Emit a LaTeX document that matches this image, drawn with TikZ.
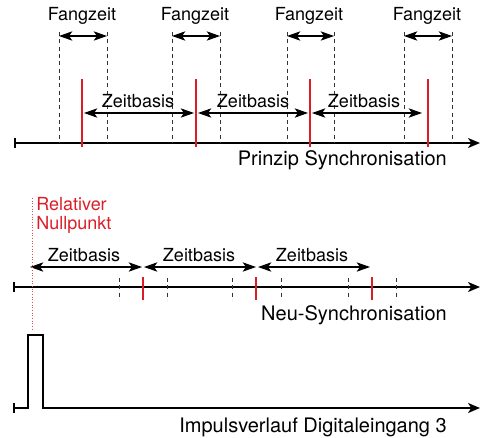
\documentclass[tikz,border=0pt]{standalone}
\usepackage{fontspec}
\setmainfont{TeX Gyre Heros}
\usetikzlibrary{arrows.meta,calc}
\definecolor{myred}{RGB}{218,30,40}
\tikzset{
  axis/.style={line width=1.1pt,-{Stealth[length=9pt,width=7.5pt,inset=2.5pt]}},
  dim/.style={line width=0.8pt,{Stealth[length=10pt,width=7pt,inset=2.5pt]}-{Stealth[length=10pt,width=7pt,inset=2.5pt]}},
  guide/.style={line width=0.7pt,dash pattern=on 3pt off 2.5pt,black!80},
  redmark/.style={line width=0.9pt,myred},
  small/.style={font=\fontsize{13.5}{16}\selectfont,inner sep=0pt},
  big/.style={font=\fontsize{15}{18}\selectfont,inner sep=0pt},
}
\begin{document}
\begin{tikzpicture}[x=0.75pt,y=-0.75pt]
\useasboundingbox (0,0) rectangle (481,437);
% ---------- top: Prinzip Synchronisation
\coordinate (a0) at (15,143);
\coordinate (a1) at (480,143);
\draw[line width=1.1pt] (15,138) -- (15,148);
\draw[axis] (a0) -- (a1);
\foreach \i/\x in {1/59,2/107,3/172,4/220,5/287,6/334,7/404,8/452}{
  \coordinate (dt\i) at (\x,32);
  \coordinate (db\i) at (\x,143);
  \draw[guide] (dt\i) -- (db\i);
}
\foreach \i/\a/\b in {1/1/2,2/3/4,3/5/6,4/7/8}{
  \draw[dim] ($(dt\a)+(0,4)$) -- ($(dt\b)+(0,4)$);
}
\node[small] (f1) at (82,16) {Fangzeit};
\node[small] (f2) at (195,16) {Fangzeit};
\node[small] (f3) at (309,16) {Fangzeit};
\node[small] (f4) at (427,16) {Fangzeit};
\foreach \i/\x in {1/82,2/196,3/310,4/428}{
  \coordinate (rt\i) at (\x,79);
  \coordinate (rb\i) at (\x,147);
  \draw[redmark] (rt\i) -- (rb\i);
}
\coordinate (z1a) at (84,113); \coordinate (z1b) at (194,113);
\coordinate (z2a) at (198,113); \coordinate (z2b) at (308,113);
\coordinate (z3a) at (312,113); \coordinate (z3b) at (422,113);
\draw[dim] (z1a) -- (z1b);
\draw[dim] (z2a) -- (z2b);
\draw[dim] (z3a) -- (z3b);
\node[small] (zb1) at (138,101) {Zeitbasis};
\node[small] (zb2) at (253,101) {Zeitbasis};
\node[small] (zb3) at (364,101) {Zeitbasis};
\node[big,anchor=east] (prinzip) at (447,160) {Prinzip Synchronisation};
% ---------- middle: Neu-Synchronisation
\coordinate (m0) at (14,287);
\coordinate (m1) at (480,287);
\draw[line width=1.1pt] (14,282) -- (14,292);
\draw[axis] (m0) -- (m1);
\foreach \i/\x in {1/119,2/167,3/232,4/281,5/348,6/396}{
  \coordinate (mt\i) at (\x,278);
  \coordinate (mb\i) at (\x,300);
  \draw[guide] (mt\i) -- (mb\i);
}
\foreach \i/\x in {1/143,2/256,3/372}{
  \coordinate (mrt\i) at (\x,277);
  \coordinate (mrb\i) at (\x,300);
  \draw[redmark] (mrt\i) -- (mrb\i);
}
\coordinate (n1a) at (30,267); \coordinate (n1b) at (142,267);
\coordinate (n2a) at (144,267); \coordinate (n2b) at (256,267);
\coordinate (n3a) at (258,267); \coordinate (n3b) at (370,267);
\draw[dim] (n1a) -- (n1b);
\draw[dim] (n2a) -- (n2b);
\draw[dim] (n3a) -- (n3b);
\node[small] (nb1) at (84,255) {Zeitbasis};
\node[small] (nb2) at (199,255) {Zeitbasis};
\node[small] (nb3) at (312,255) {Zeitbasis};
\node[big,anchor=east] (neu) at (447,315) {Neu-Synchronisation};
% red zero line
\coordinate (zt) at (32,198);
\coordinate (zb) at (32,331);
\draw[myred!80,line width=0.7pt,dash pattern=on 0.8pt off 1.2pt] (zt) -- (zb);
\node[small,text=myred,anchor=north west,align=left] (null) at (36,197) {Relativer\\[-1.5pt]Nullpunkt};
% ---------- bottom: Impulsverlauf
\coordinate (b0) at (14,408);
\coordinate (b1) at (480,408);
\draw[line width=1.1pt] (14,403) -- (14,413);
\draw[axis] (b0) -- (28,408) -- (28,335) -- (43,335) -- (43,408) -- (b1);
\node[big,anchor=east] (imp) at (447,427) {Impulsverlauf Digitaleingang 3};
\end{tikzpicture}
\end{document}
